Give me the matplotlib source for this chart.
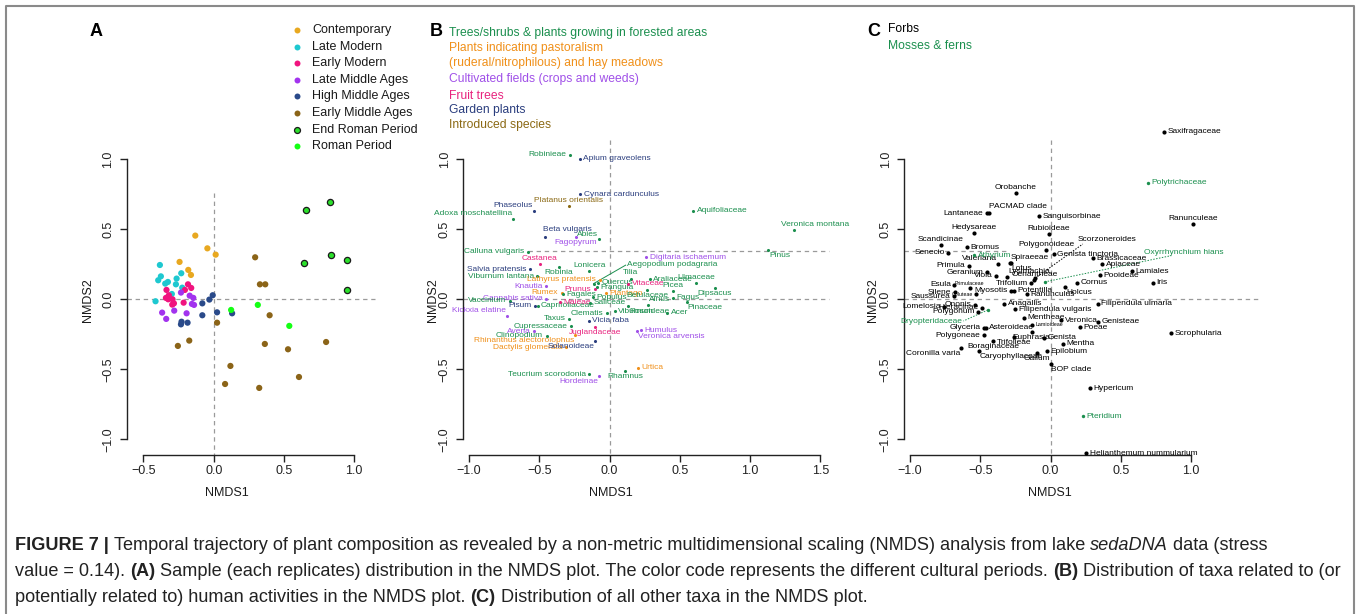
import matplotlib
matplotlib.use('Agg')
import matplotlib.pyplot as plt
from matplotlib import font_manager

# ---------------- DATA ----------------
# Panel A: samples by cultural period (NMDS1, NMDS2)
periods = ["Contemporary", "Late Modern", "Early Modern", "Late Middle Ages",
           "High Middle Ages", "Early Middle Ages", "End Roman Period", "Roman Period"]
contemporary_x = [-0.131, -0.045, 0.014, -0.243, -0.181, -0.162]
contemporary_y = [0.455, 0.364, 0.319, 0.267, 0.210, 0.174]
late_modern_x = [-0.383, -0.376, -0.395, -0.345, -0.326, -0.264, -0.231, -0.269, -0.224, -0.298, -0.414]
late_modern_y = [0.245, 0.164, 0.136, 0.112, 0.124, 0.148, 0.186, 0.107, 0.083, 0.038, -0.014]
early_modern_x = [-0.336, -0.319, -0.340, -0.324, -0.293, -0.283, -0.295, -0.183, -0.160, -0.205, -0.214]
early_modern_y = [0.067, 0.029, 0.010, 0.000, 0.000, -0.029, -0.038, 0.107, 0.081, 0.067, -0.024]
late_middle_x = [-0.233, -0.171, -0.145, -0.155, -0.140, -0.367, -0.281, -0.338, -0.193]
late_middle_y = [0.048, 0.026, 0.010, -0.033, -0.040, -0.095, -0.081, -0.140, -0.100]
high_middle_x = [-0.007, -0.031, -0.081, -0.081, 0.024, 0.131, -0.229, -0.233, -0.186]
high_middle_y = [0.029, -0.002, -0.029, -0.114, -0.093, -0.100, -0.160, -0.179, -0.167]
early_middle_x = [0.295, 0.329, 0.367, 0.398, 0.024, -0.174, -0.255, 0.364, 0.529, 0.800, 0.119, 0.081, 0.324, 0.607]
early_middle_y = [0.300, 0.107, 0.107, -0.114, -0.167, -0.295, -0.333, -0.319, -0.357, -0.305, -0.476, -0.605, -0.633, -0.555]
end_roman_x = [0.657, 0.829, 0.833, 0.643, 0.950, 0.948]
end_roman_y = [0.636, 0.693, 0.317, 0.257, 0.283, 0.064]
roman_x = [0.124, 0.314, 0.538]
roman_y = [-0.076, -0.040, -0.190]

# Panel B: taxa related to human activities
b_categories = ["Trees/shrubs & plants growing in forested areas",
                "Plants indicating pastoralism\n(ruderal/nitrophilous) and hay meadows",
                "Cultivated fields (crops and weeds)", "Fruit trees", "Garden plants",
                "Introduced species"]
b_names = ["Robinieae", "Apium graveolens", "Cynara cardunculus", "Platanus orientalis", "Phaseolus",
           "Adoxa moschatellina", "Beta vulgaris", "Fagopyrum", "Abies", "Calluna vulgaris",
           "Castanea", "Salvia pratensis", "Robinia", "Lonicera", "Viburnum lantana",
           "Lathyrus pratensis", "Knautia", "Rumex", "Cannabis sativa", "Fagales",
           "Vaccinium", "Pisum", "Caprifoliaceae", "Kickxia elatine", "Maleae",
           "Taxus", "Cupressaceae", "Avena", "Clinopodium", "Rhinanthus alectorolophus",
           "Dactylis glomerata", "Solanoideae", "Teucrium scorodonia", "Hordeinae", "Rhamnus",
           "Urtica", "Digitaria ischaemum", "Aegopodium podagraria", "Tilia", "Quercus",
           "Prunus", "Frangula", "Vitaceae", "Plantago", "Populus",
           "Araliaceae", "Ulmaceae", "Picea", "Betulaceae", "Fagus",
           "Dipsacus", "Pinaceae", "Alnus", "Rosoideae", "Acer",
           "Viburnum", "Saliceae", "Clematis", "Vicia faba", "Juglandaceae",
           "Humulus", "Veronica arvensis", "Aquifoliaceae", "Veronica montana", "Pinus"]
b_x = [-0.283, -0.212, -0.209, -0.290, -0.540,
       -0.687, -0.460, -0.240, -0.074, -0.583,
       -0.498, -0.564, -0.361, -0.145, -0.514,
       -0.070, -0.453, -0.340, -0.453, -0.330,
       -0.710, -0.530, -0.512, -0.730, -0.350,
       -0.285, -0.271, -0.537, -0.448, -0.243,
       -0.308, -0.100, -0.143, -0.074, 0.112,
       0.202, 0.263, -0.113, 0.150, -0.080,
       -0.105, -0.090, 0.135, -0.027, -0.117,
       0.287, 0.615, 0.450, 0.270, 0.454,
       0.750, 0.552, 0.277, 0.133, 0.410,
       0.036, -0.141, -0.020, -0.148, -0.100,
       0.225, 0.197, 0.596, 1.310, 1.130]
b_y = [1.031, 1.005, 0.750, 0.669, 0.629,
       0.571, 0.448, 0.448, 0.431, 0.341,
       0.255, 0.216, 0.231, 0.202, 0.164,
       0.141, 0.095, 0.048, 0.005, 0.035,
       -0.012, -0.045, -0.045, -0.119, -0.020,
       -0.138, -0.193, -0.229, -0.262, -0.255,
       -0.341, -0.298, -0.536, -0.550, -0.512,
       -0.488, 0.302, 0.112, 0.148, 0.120,
       0.071, 0.085, 0.112, 0.043, 0.016,
       0.143, 0.119, 0.060, 0.064, 0.012,
       0.083, -0.019, -0.038, -0.048, -0.095,
       -0.086, -0.024, -0.100, -0.155, -0.198,
       -0.221, -0.226, 0.631, 0.493, 0.355]
b_cat = [0, 4, 4, 5, 4,
         0, 4, 2, 0, 0,
         3, 4, 0, 0, 0,
         1, 2, 1, 2, 0,
         0, 4, 0, 2, 3,
         0, 0, 2, 0, 1,
         1, 4, 0, 2, 0,
         1, 2, 0, 0, 0,
         3, 0, 3, 1, 0,
         0, 0, 0, 0, 0,
         0, 0, 0, 0, 0,
         0, 0, 0, 4, 3,
         2, 2, 0, 0, 0]

# Panel C: all other taxa (0 = forbs, 1 = mosses & ferns)
c_groups = ["Forbs", "Mosses & ferns"]
c_names = ["Saxifragaceae", "Orobanche", "Lantaneae", "PACMAD clade", "Sanguisorbinae",
           "Hedysareae", "Rubioideae", "Ranunculeae", "Scandicinae", "Bromus",
           "Senecio", "Polygonoideae", "Genista tinctoria", "Scorzoneroides", "Brassicaceae",
           "Apiaceae", "Lamiales", "Pooideae", "Cornus", "Iris",
           "Holcus", "Valeriana", "Spiraeeae", "Lotus", "Primula",
           "Geranium", "Viola", "Lysimachia", "Oenantheae", "Trifolium",
           "Esula", "Primulaceae", "Myosotis", "Potentilla", "Silene",
           "Coluteae", "Saussurea", "Lomelosia", "Ononis", "Hieracinae",
           "Polygonum", "Glyceria", "Asteroideae", "Polygoneae", "Coronilla varia",
           "Boraginaceae", "Caryophyllaceae", "Ranunculus", "Anagallis", "Filipendula vulgaris",
           "Filipendula ulmaria", "Mentheae", "Veronica", "Genisteae", "Poeae",
           "Genista", "Mentha", "Epilobium", "Galium", "BOP clade",
           "Hypericum", "Trifolieae", "Euphrasia", "Lamioideae", "Scrophularia",
           "Helianthemum nummularium",
           "Polytrichaceae", "Athyrium", "Oxyrrhynchium hians", "Dryopteridaceae", "Pteridium"]
c_x = [0.808, -0.248, -0.454, -0.440, -0.084,
       -0.542, -0.013, 1.016, -0.779, -0.594,
       -0.729, -0.032, 0.023, -0.110, 0.300,
       0.367, 0.580, 0.352, 0.189, 0.730,
       0.105, -0.374, -0.290, -0.280, -0.582,
       -0.450, -0.390, -0.307, -0.115, -0.137,
       -0.685, -0.576, -0.280, -0.262, -0.680,
       -0.530, -0.690, -0.758, -0.537, -0.486,
       -0.517, -0.472, -0.462, -0.476, -0.637,
       -0.410, -0.510, -0.169, -0.330, -0.250,
       0.336, -0.190, 0.075, 0.340, 0.212,
       -0.044, 0.091, -0.025, -0.098, 0.000,
       0.281, -0.258, -0.134, -0.130, 0.858,
       0.253,
       0.692, -0.544, -0.041, -0.446, 0.231]
c_y = [1.198, 0.762, 0.614, 0.620, 0.593,
       0.474, 0.466, 0.536, 0.390, 0.371,
       0.333, 0.352, 0.321, 0.150, 0.295,
       0.250, 0.200, 0.171, 0.117, 0.117,
       0.088, 0.252, 0.257, 0.262, 0.238,
       0.193, 0.169, 0.159, 0.136, 0.114,
       0.105, 0.081, 0.060, 0.062, 0.052,
       0.036, 0.021, -0.055, -0.040, -0.062,
       -0.088, -0.202, -0.202, -0.257, -0.345,
       -0.300, -0.366, 0.036, -0.030, -0.070,
       -0.031, -0.130, -0.150, -0.160, -0.198,
       -0.274, -0.319, -0.371, -0.383, -0.459,
       -0.634, -0.269, -0.230, -0.180, -0.243,
       -1.100,
       0.834, 0.316, 0.124, -0.076, -0.836]
c_grp = [0] * 66 + [1] * 5

# ---------------- STYLE ----------------
W, H, DPI = 1360, 614, 100
avail = {f.name for f in font_manager.fontManager.ttflist}
BASE = 'Liberation Sans' if 'Liberation Sans' in avail else 'DejaVu Sans'
NARROW = 'Liberation Sans Narrow' if 'Liberation Sans Narrow' in avail else BASE
plt.rcParams['font.family'] = [BASE, 'DejaVu Sans']

period_colors = ['#E8A820', '#1EC8D0', '#F0147F', '#A233EE', '#2A4A8A', '#8B6418', '#2BE02B', '#14FF14']
b_colors = ['#1B8F4E', '#F0901A', '#A050E8', '#E8237E', '#2B3E7E', '#8B6914']
c_colors = ['#000000', '#1B8F4E']
DASH = '#9A9A9A'

OFF = {'r': (2.5, 0, 'left', 'center'), 'l': (-2.5, 0, 'right', 'center'),
       'a': (0, 1.5, 'center', 'bottom'), 'b': (0, -1.5, 'center', 'top'),
       'al': (-0.5, 1.5, 'right', 'bottom'), 'ar': (0.5, 1.5, 'left', 'bottom'),
       'bl': (-0.5, -1.5, 'right', 'top'), 'br': (0.5, -1.5, 'left', 'top')}

b_pos = {"Robinieae": 'l', "Apium graveolens": 'r', "Cynara cardunculus": 'r', "Platanus orientalis": 'a',
         "Phaseolus": 'al', "Adoxa moschatellina": 'al', "Beta vulgaris": (-1.5, 2.5, 'left', 'bottom'),
         "Fagopyrum": 'b',
         "Abies": (-0.5, 0.5, 'right', 'bottom'), "Calluna vulgaris": 'l', "Castanea": 'a',
         "Salvia pratensis": 'l',
         "Robinia": 'b', "Lonicera": 'a', "Viburnum lantana": 'l', "Lathyrus pratensis": 'l',
         "Knautia": 'l', "Rumex": 'l', "Cannabis sativa": 'l', "Fagales": 'r', "Vaccinium": 'l',
         "Pisum": 'l', "Caprifoliaceae": 'r', "Kickxia elatine": 'al', "Maleae": 'r', "Taxus": 'l',
         "Cupressaceae": 'l', "Avena": 'l', "Clinopodium": 'l', "Rhinanthus alectorolophus": 'bl',
         "Dactylis glomerata": 'l', "Solanoideae": 'bl', "Teucrium scorodonia": 'l', "Hordeinae": 'bl',
         "Rhamnus": 'b', "Urtica": 'r', "Digitaria ischaemum": 'r', "Tilia": 'a', "Quercus": 'r',
         "Prunus": 'l', "Frangula": 'r', "Vitaceae": 'r', "Plantago": 'r', "Populus": 'r',
         "Araliaceae": 'r', "Ulmaceae": 'a', "Picea": 'a', "Betulaceae": 'b', "Fagus": 'r',
         "Dipsacus": 'b', "Pinaceae": 'br', "Alnus": 'ar', "Rosoideae": 'br', "Acer": 'r',
         "Viburnum": 'r', "Saliceae": 'r', "Clematis": 'l', "Vicia faba": 'r', "Juglandaceae": 'b',
         "Humulus": 'r', "Veronica arvensis": 'br', "Aquifoliaceae": 'r',
         "Veronica montana": (-9, 2, 'left', 'bottom'), "Pinus": 'br'}
# leader labels: label anchor (x, y), horizontal alignment, line end point near the label
b_leader = {"Aegopodium podagraria": ((0.125, 0.252), 'left', (0.115, 0.244))}

c_pos = {"Saxifragaceae": 'r', "Orobanche": 'a', "Lantaneae": 'l', "PACMAD clade": 'ar',
         "Sanguisorbinae": 'r', "Hedysareae": 'a', "Rubioideae": 'a', "Ranunculeae": 'a',
         "Scandicinae": 'a', "Bromus": 'r', "Senecio": 'l', "Polygonoideae": 'a',
         "Genista tinctoria": 'r', "Brassicaceae": 'r', "Apiaceae": 'r', "Lamiales": 'r',
         "Pooideae": 'r', "Cornus": 'r', "Iris": 'r', "Holcus": 'br', "Valeriana": 'al',
         "Spiraeeae": 'ar', "Lotus": 'br', "Primula": 'l', "Geranium": 'l', "Viola": 'l',
         "Lysimachia": 'ar', "Oenantheae": 'a', "Trifolium": 'l', "Esula": 'l', "Primulaceae": 'a',
         "Myosotis": 'l', "Potentilla": 'r', "Silene": 'l', "Coluteae": 'l', "Saussurea": 'l',
         "Lomelosia": 'l', "Ononis": 'l', "Hieracinae": 'l', "Polygonum": 'l', "Glyceria": 'l',
         "Asteroideae": 'r', "Polygoneae": 'l', "Coronilla varia": 'bl', "Boraginaceae": 'b',
         "Caryophyllaceae": 'br', "Ranunculus": 'r', "Anagallis": 'r', "Filipendula vulgaris": 'r',
         "Filipendula ulmaria": 'r', "Mentheae": 'r', "Veronica": 'r', "Genisteae": 'r', "Poeae": 'r',
         "Genista": 'r', "Mentha": 'r', "Epilobium": 'r', "Galium": 'b', "BOP clade": 'br',
         "Hypericum": 'r', "Trifolieae": 'b', "Euphrasia": 'b', "Lamioideae": 'r',
         "Scrophularia": 'r', "Helianthemum nummularium": 'r', "Polytrichaceae": 'r',
         "Athyrium": 'r', "Pteridium": 'r'}
c_small = {"Primulaceae", "Coluteae", "Lamioideae"}
c_leader = {"Scorzoneroides": ((0.196, 0.424), 'left', (0.23, 0.395)),
            "Oxyrrhynchium hians": ((0.666, 0.336), 'left', (0.86, 0.312)),
            "Dryopteridaceae": ((-0.625, -0.160), 'right', (-0.62, -0.155))}

fig = plt.figure(figsize=(W / DPI, H / DPI), dpi=DPI)


def make_ax(left, bottom, right, top, x0, y0, sx, sy):
    ax = fig.add_axes([left / W, 1 - bottom / H, (right - left) / W, (bottom - top) / H])
    ax.set_xlim((left - x0) / sx, (right - x0) / sx)
    ax.set_ylim((y0 - bottom) / sy, (y0 - top) / sy)
    ax.patch.set_alpha(0)
    ax.spines['top'].set_visible(False)
    ax.spines['right'].set_visible(False)
    for s in ['left', 'bottom']:
        ax.spines[s].set_linewidth(1.0)
        ax.spines[s].set_color('#222222')
    ax.tick_params(direction='out', length=5, width=1.0, color='#222222', labelsize=9,
                   labelcolor='#222222')
    ax.tick_params(axis='x', pad=2)
    ax.tick_params(axis='y', pad=4)
    return ax


def style_ticks(ax, xt, yt):
    ax.set_xticks(xt)
    ax.set_yticks(yt)
    ax.set_xticklabels([f"{v:.1f}".replace('-', '\u2212') for v in xt])
    ax.set_yticklabels([f"{v:.1f}".replace('-', '\u2212') for v in yt], rotation=90, va='center')
    ax.spines['bottom'].set_bounds(xt[0], xt[-1])
    ax.spines['left'].set_bounds(yt[0], yt[-1])


def dline(ax, xs, ys):
    ax.plot(xs, ys, color=DASH, lw=0.9, ls=(0, (3.5, 3.0)), clip_on=False, zorder=1)


def place(ax, n, x, y, code, col, size):
    dx, dy, ha, va = OFF[code] if isinstance(code, str) else code
    ax.annotate(n, (x, y), xytext=(dx, dy), textcoords='offset points', ha=ha, va=va,
                fontsize=size, color=col, annotation_clip=False)


def leader(ax, n, x, y, spec, col, ls):
    (lx, ly), ha, (ex, ey) = spec
    ax.plot([x, ex], [y, ey], color=col, lw=0.7, ls=ls, zorder=2)
    ax.text(lx, ly, n, fontsize=6, color=col, ha=ha, va='center')


SX = 140.5
SY = 140.0
Y0 = 299.3
YT = [-1.0, -0.5, 0.0, 0.5, 1.0]

# ---------------- PANEL A ----------------
axA = make_ax(126.7, 455, 375, 140, 213.7, Y0, SX, SY)
style_ticks(axA, [-0.5, 0.0, 0.5, 1.0], YT)
dline(axA, [-0.62, 1.15], [0, 0])
dline(axA, [0, 0], [0.76, -1.11])
series = [(contemporary_x, contemporary_y), (late_modern_x, late_modern_y),
          (early_modern_x, early_modern_y), (late_middle_x, late_middle_y),
          (high_middle_x, high_middle_y), (early_middle_x, early_middle_y),
          (end_roman_x, end_roman_y), (roman_x, roman_y)]
for i, (xs, ys) in enumerate(series):
    ec = '#1a1a1a' if i == 6 else 'none'
    axA.scatter(xs, ys, s=20, color=period_colors[i], edgecolors=ec, linewidths=0.9, zorder=3)
for i, name in enumerate(periods):
    yy = 30 + i * 16.6
    fig.add_artist(plt.Line2D([297 / W], [1 - yy / H], marker='o', ms=4.3, color=period_colors[i],
                              mec='#1a1a1a' if i == 6 else period_colors[i], mew=0.9 if i == 6 else 0,
                              ls='none'))
    fig.text(312 / W, 1 - yy / H, name, fontsize=9, va='center', ha='left', color='#1a1a1a')

# ---------------- PANEL B ----------------
axB = make_ax(463.3, 455, 830, 140, 609.5, Y0, SX, SY)
style_ticks(axB, [-1.0, -0.5, 0.0, 0.5, 1.0, 1.5], YT)
dline(axB, [-1.04, 1.56], [0, 0])
dline(axB, [-0.58, 1.56], [0.348, 0.348])
dline(axB, [0, 0], [1.14, -1.11])
for n, x, y, c in zip(b_names, b_x, b_y, b_cat):
    col = b_colors[c]
    axB.scatter([x], [y], s=5, color=col, zorder=3, linewidths=0)
    if n in b_leader:
        leader(axB, n, x, y, b_leader[n], col, '-')
    else:
        place(axB, n, x, y, b_pos[n], col, 6)
b_leg_y = [33, 48, 79, 96, 110, 125]
for i, name in enumerate(b_categories):
    if i == 1:
        fig.text(449 / W, 1 - 48 / H, "Plants indicating pastoralism", fontsize=8.7, color=b_colors[i],
                 va='center', ha='left')
        fig.text(449 / W, 1 - 63 / H, "(ruderal/nitrophilous) and hay meadows", fontsize=8.7,
                 color=b_colors[i], va='center', ha='left')
    else:
        fig.text(449 / W, 1 - b_leg_y[i] / H, name, fontsize=8.7, color=b_colors[i], va='center', ha='left')

# ---------------- PANEL C ----------------
axC = make_ax(904.3, 455, 1262, 115, 1050.5, Y0, SX, SY)
style_ticks(axC, [-1.0, -0.5, 0.0, 0.5, 1.0], YT)
dline(axC, [-1.04, 1.5], [0, 0])
dline(axC, [-1.04, -0.3], [0.345, 0.345])
dline(axC, [0, 0], [1.14, -1.2])
for n, x, y, g in zip(c_names, c_x, c_y, c_grp):
    col = c_colors[g]
    axC.scatter([x], [y], s=9 if g == 0 else 6, color=col, zorder=3, linewidths=0)
    if n in c_leader:
        leader(axC, n, x, y, c_leader[n], col, (0, (1.5, 1.5)))
    else:
        place(axC, n, x, y, c_pos[n], col, 3.8 if n in c_small else 6)
fig.text(888 / W, 1 - 29 / H, c_groups[0], fontsize=8.7, color=c_colors[0], va='center', ha='left')
fig.text(888 / W, 1 - 46 / H, c_groups[1], fontsize=8.7, color=c_colors[1], va='center', ha='left')

# axis titles and panel letters
for xc in (227, 611, 1050):
    fig.text(xc / W, 1 - 493 / H, "NMDS1", fontsize=9, ha='center', va='center', color='#1a1a1a')
for xc in (88, 433, 873):
    fig.text(xc / W, 1 - 300 / H, "NMDS2", fontsize=9, ha='center', va='center', rotation=90,
             color='#1a1a1a')
for xc, lab in ((96, 'A'), (436, 'B'), (874, 'C')):
    fig.text(xc / W, 1 - 32 / H, lab, fontsize=13, fontweight='bold', ha='center', va='center')

# border
fig.add_artist(plt.Line2D([6 / W, 6 / W, 1354 / W, 1354 / W], [0, 1 - 6 / H, 1 - 6 / H, 0],
                          color='#8a8a8a', lw=1.5))

# caption
caption = [
    [("FIGURE 7 | ", 'bold', 'normal'),
     ("Temporal trajectory of plant composition as revealed by a non-metric multidimensional scaling (NMDS) analysis from lake ", 'normal', 'normal'),
     ("sedaDNA", 'normal', 'italic'), (" data (stress", 'normal', 'normal')],
    [("value = 0.14). ", 'normal', 'normal'), ("(A)", 'bold', 'normal'),
     (" Sample (each replicates) distribution in the NMDS plot. The color code represents the different cultural periods. ", 'normal', 'normal'),
     ("(B)", 'bold', 'normal'), (" Distribution of taxa related to (or", 'normal', 'normal')],
    [("potentially related to) human activities in the NMDS plot. ", 'normal', 'normal'),
     ("(C)", 'bold', 'normal'), (" Distribution of all other taxa in the NMDS plot.", 'normal', 'normal')],
]
renderer = fig.canvas.get_renderer()


def line_width(parts, size):
    tot = 0
    for txt, wt, st in parts:
        t = fig.text(0, 0, txt.replace(' ', '\u00a0'), fontsize=size, fontweight=wt, fontstyle=st,
                     family=[NARROW, 'DejaVu Sans'])
        tot += t.get_window_extent(renderer).width
        t.remove()
    return tot


base = 12.0
wid = line_width(caption[0], base)
cap_size = base * (1253.0 / wid)
for li, parts in enumerate(caption):
    cur = 15.0
    yy = 546 + li * 26
    for txt, wt, st in parts:
        t = fig.text(cur / W, 1 - yy / H, txt.replace(' ', '\u00a0'), fontsize=cap_size, fontweight=wt,
                     fontstyle=st, family=[NARROW, 'DejaVu Sans'], va='center', ha='left',
                     color='#222222')
        cur += t.get_window_extent(renderer).width

fig.savefig('out.png', dpi=DPI)
